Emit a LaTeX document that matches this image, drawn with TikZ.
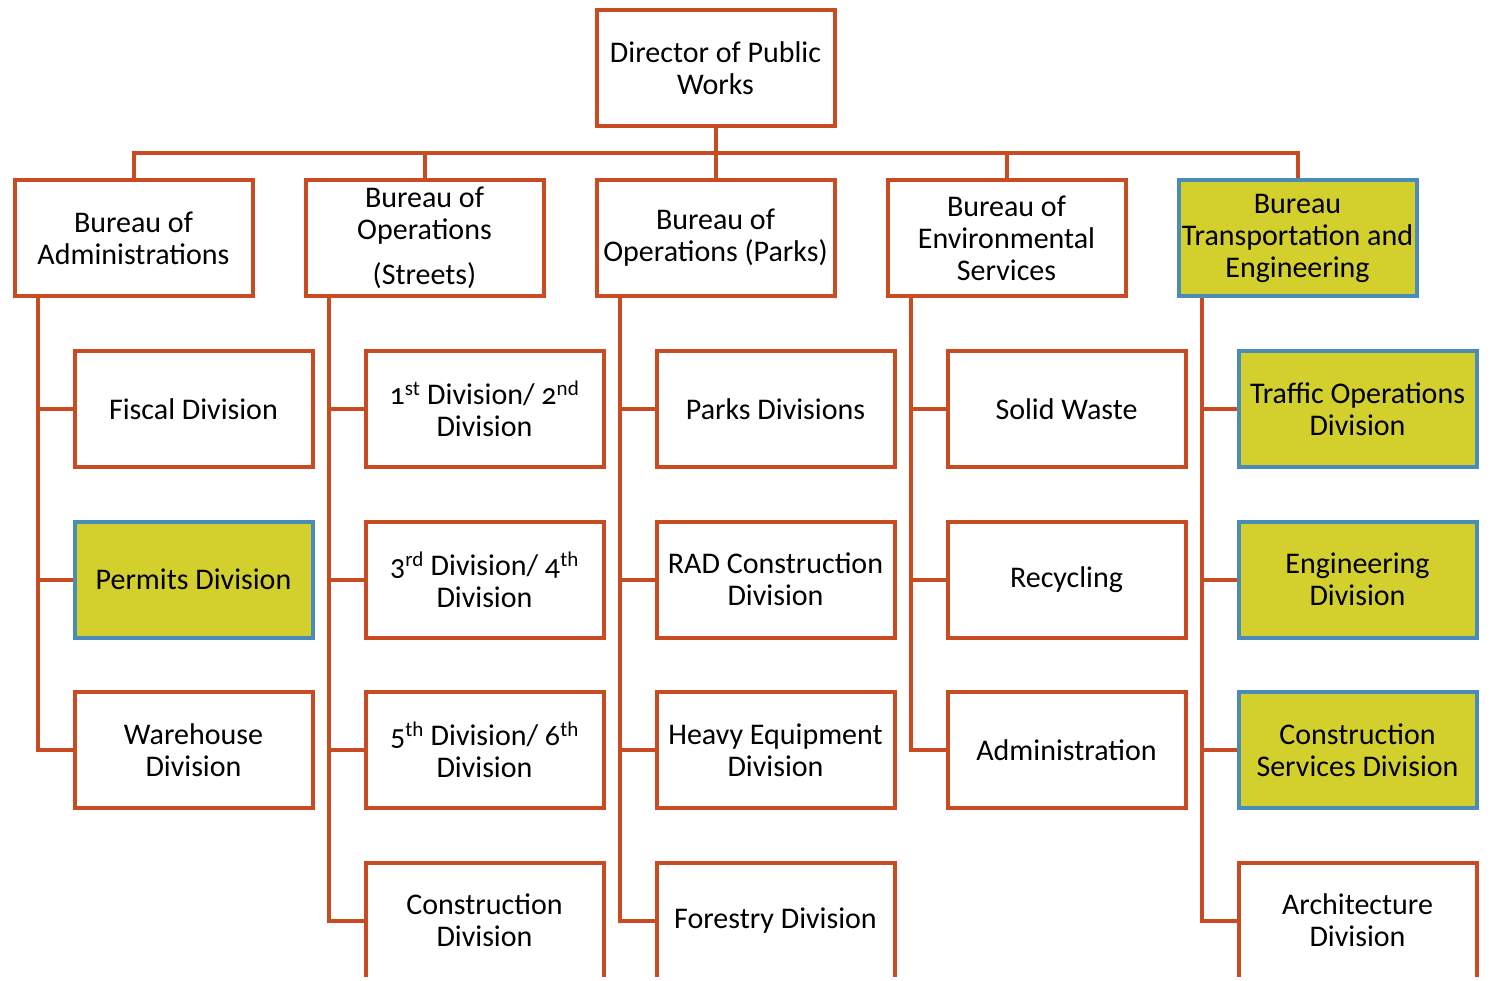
\documentclass[tikz,border=0pt]{standalone}
\usepackage{fontspec}
\setmainfont{Carlito}[Numbers=OldStyle]
\usepackage{xcolor}
\usetikzlibrary{positioning}
\definecolor{rust}{HTML}{C84B22}
\definecolor{steel}{HTML}{4A8BB7}
\definecolor{citron}{HTML}{D3CF2D}

\begin{document}
\begin{tikzpicture}[x=1pt,y=-1pt,
    every node/.style={on grid},
    box/.style={draw=rust,line width=4pt,fill=white,minimum width=238pt,minimum height=116pt,
      align=center,font=\fontsize{30}{32}\selectfont,inner sep=1pt},
    hilite/.style={box,draw=steel,fill=citron},
    link/.style={draw=rust,line width=4pt}]
    \useasboundingbox (0,0) rectangle (1496,980);
    \clip (0,0) rectangle (1496,976);
    % top level
    \node[box] (dir) at (715.5,68) {Director of Public\\Works};
    % bureaus
    \node[box] (b3) at (715.5,238) {Bureau of\\Operations (Parks)};
    \node[box,left=291pt of b3] (b2) {Bureau of\\Operations\\[13pt](Streets)};
    \node[box,left=291pt of b2] (b1) {Bureau of\\Administrations};
    \node[box,right=291pt of b3] (b4) {Bureau of\\Environmental\\Services};
    \node[hilite,right=291pt of b4] (b5) {Bureau\\Transportation and\\Engineering};
    % divisions
    \node[box,below right=171pt and 60pt of b1] (d11) {Fiscal Division};
    \node[hilite,below=170.5pt of d11] (d12) {Permits Division};
    \node[box,below=170.5pt of d12] (d13) {Warehouse\\Division};
    \node[box,below right=171pt and 60pt of b2] (d21) {1\textsuperscript{st} Division/ 2\textsuperscript{nd}\\Division};
    \node[box,below=170.5pt of d21] (d22) {3\textsuperscript{rd} Division/ 4\textsuperscript{th}\\Division};
    \node[box,below=170.5pt of d22] (d23) {5\textsuperscript{th} Division/ 6\textsuperscript{th}\\Division};
    \node[box,below=170.5pt of d23] (d24) {Construction\\Division};
    \node[box,below right=171pt and 60pt of b3] (d31) {Parks Divisions};
    \node[box,below=170.5pt of d31] (d32) {RAD Construction\\Division};
    \node[box,below=170.5pt of d32] (d33) {Heavy Equipment\\Division};
    \node[box,below=170.5pt of d33] (d34) {Forestry Division};
    \node[box,below right=171pt and 60pt of b4] (d41) {Solid Waste};
    \node[box,below=170.5pt of d41] (d42) {Recycling};
    \node[box,below=170.5pt of d42] (d43) {Administration};
    \node[hilite,below right=171pt and 60pt of b5] (d51) {Traffic Operations\\Division};
    \node[hilite,below=170.5pt of d51] (d52) {Engineering\\Division};
    \node[hilite,below=170.5pt of d52] (d53) {Construction\\Services Division};
    \node[box,below=170.5pt of d53] (d54) {Architecture\\Division};
    % bus
    \coordinate (bus) at (715.5,153);
    \draw[link] (dir.south) -- (b3.north);
    \draw[link] (b1.north) |- (bus) -| (b5.north);
    \foreach \b in {b2,b4}
      \draw[link] (\b.north) -- (\b.north |- bus);
    % spines
    \foreach \b/\ds in {b1/{d11,d12,d13},b2/{d21,d22,d23,d24},b3/{d31,d32,d33,d34},
                        b4/{d41,d42,d43},b5/{d51,d52,d53,d54}}{
      \coordinate (s) at ([xshift=25pt]\b.south west);
      \foreach \d in \ds
        \draw[link] (s) |- (\d.west);
    }
  \end{tikzpicture}
\end{document}
